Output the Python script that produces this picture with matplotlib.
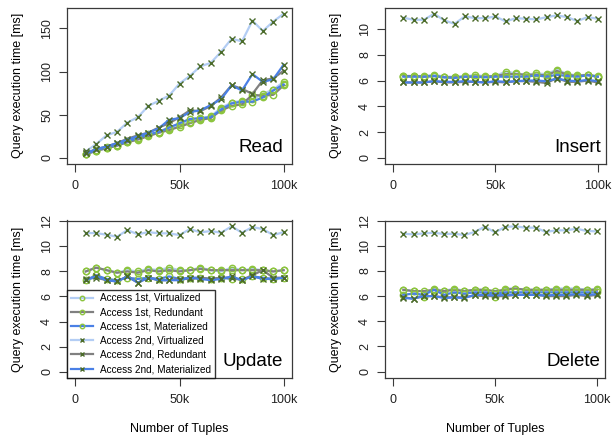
import matplotlib.pyplot as plt
from matplotlib.ticker import MultipleLocator
import numpy as np

plt.rcParams['font.family'] = ['Liberation Sans', 'DejaVu Sans']

# number of tuples (5k .. 100k)
tuples = [5000 * (i + 1) for i in range(20)]
xtick_vals = [0, 50000, 100000]
xtick_labels = ['0', '50k', '100k']

series_names = ['Access 1st, Virtualized', 'Access 1st, Redundant', 'Access 1st, Materialized',
                'Access 2nd, Virtualized', 'Access 2nd, Redundant', 'Access 2nd, Materialized']

# Read
read_1st_virt = [4, 8, 11, 14, 18, 22, 26, 29, 33, 38, 42, 45, 48, 58, 64, 66, 68, 74, 79, 88]
read_1st_red = [4, 8, 11, 14, 18, 21, 25, 29, 32, 36, 40, 44, 46, 55, 60, 62, 73, 72, 73, 84]
read_1st_mat = [4, 9, 12, 15, 19, 23, 27, 30, 35, 40, 45, 46, 47, 56, 63, 65, 65, 70, 78, 85]
read_2nd_virt = [7.3, 15.8, 26, 30, 40.8, 47, 60, 66, 72, 86, 95, 106, 110, 123, 138, 135, 159, 147, 158, 167]
read_2nd_red = [5, 10, 13, 17, 22, 26, 29, 35, 40, 47, 55, 54, 60, 70, 84, 80, 74, 90, 92, 101]
read_2nd_mat = [5, 10, 13, 17, 21, 25, 29, 34, 44, 46, 53, 55, 61, 68, 84, 78, 97, 88, 91, 108]

# Insert
ins_1st_virt = [6.35, 6.35, 6.35, 6.45, 6.3, 6.3, 6.35, 6.4, 6.35, 6.35, 6.7, 6.55, 6.45, 6.55, 6.5, 6.85, 6.5, 6.4, 6.45, 6.35]
ins_1st_red = [6.35, 6.35, 6.3, 6.35, 6.25, 6.25, 6.3, 6.3, 6.3, 6.35, 6.5, 6.5, 6.45, 6.45, 6.4, 6.75, 6.45, 6.35, 6.45, 6.3]
ins_1st_mat = [6.3, 6.3, 6.3, 6.35, 6.25, 6.2, 6.3, 6.3, 6.25, 6.3, 6.3, 6.3, 6.3, 6.4, 6.3, 6.45, 6.35, 6.3, 6.4, 6.3]
ins_2nd_virt = [10.88, 10.72, 10.72, 11.19, 10.67, 10.41, 10.98, 10.85, 10.85, 10.98,
                10.59, 10.85, 10.8, 10.75, 10.93, 11.06, 10.93, 10.62, 10.93, 10.8]
ins_2nd_red = [5.85, 5.85, 5.85, 5.95, 5.85, 5.85, 5.9, 5.9, 5.85, 5.9, 5.85, 5.95, 5.95, 5.9, 5.8, 6.2, 5.9, 5.9, 6.0, 5.85]
ins_2nd_mat = [5.85, 5.85, 5.85, 5.95, 5.9, 5.9, 5.95, 5.9, 5.85, 5.95, 5.9, 5.95, 6.0, 6.0, 5.95, 6.15, 6.0, 5.95, 6.05, 5.95]

# Update
upd_1st_virt = [8.0, 8.3, 8.1, 7.9, 8.1, 8.0, 8.2, 8.1, 8.3, 8.1, 8.1, 8.3, 8.1, 8.0, 8.3, 8.1, 8.2, 8.1, 8.0, 8.1]
upd_1st_red = [8.0, 8.3, 8.1, 7.9, 8.0, 7.9, 8.1, 8.0, 8.1, 8.0, 8.1, 8.2, 8.1, 8.1, 8.1, 8.1, 8.1, 8.1, 8.0, 8.1]
upd_1st_mat = [7.3, 7.7, 7.4, 7.3, 7.5, 7.4, 7.5, 7.4, 7.6, 7.4, 7.5, 7.5, 7.4, 7.5, 7.4, 7.4, 7.6, 7.5, 7.4, 7.5]
upd_2nd_virt = [11.06, 11.06, 10.93, 10.77, 11.3, 10.96, 11.14, 11.04, 11.04, 10.9,
                11.38, 11.12, 11.22, 11.09, 11.6, 11.09, 11.54, 11.38, 10.9, 11.14]
upd_2nd_red = [7.4, 7.5, 7.3, 7.2, 7.6, 7.1, 7.5, 7.3, 7.3, 7.4, 7.4, 7.5, 7.4, 7.5, 7.5, 7.3, 7.7, 8.1, 7.5, 7.5]
upd_2nd_mat = [7.3, 7.6, 7.3, 7.2, 7.6, 7.1, 7.5, 7.3, 7.3, 7.3, 7.5, 7.4, 7.3, 7.4, 7.6, 7.3, 7.6, 7.4, 7.4, 7.5]

# Delete
del_1st_virt = [6.5, 6.4, 5.95, 6.6, 6.4, 6.6, 6.4, 6.5, 6.5, 5.95, 6.6, 6.6, 6.5, 6.5, 6.5, 6.6, 6.6, 6.6, 6.5, 6.55]
del_1st_red = [6.5, 6.4, 6.4, 6.5, 6.4, 6.5, 6.4, 6.5, 6.5, 6.4, 6.5, 6.6, 6.5, 6.5, 6.5, 6.5, 6.5, 6.5, 6.5, 6.5]
del_1st_mat = [6.1, 6.2, 6.1, 6.5, 6.1, 6.3, 6.2, 6.3, 6.3, 6.2, 6.3, 6.3, 6.3, 6.3, 6.3, 6.3, 6.3, 6.3, 6.3, 6.3]
del_2nd_virt = [10.95, 10.9, 10.98, 11.03, 10.93, 10.95, 10.85, 11.09, 11.51, 11.06,
                11.49, 11.54, 11.43, 11.43, 11.09, 11.22, 11.22, 11.35, 11.17, 11.14]
del_2nd_red = [5.9, 5.8, 6.0, 6.0, 5.9, 5.9, 5.9, 6.05, 6.0, 6.0, 6.0, 6.1, 6.1, 6.1, 6.0, 6.0, 6.0, 6.1, 6.0, 6.1]
del_2nd_mat = [5.85, 5.8, 6.0, 6.0, 5.85, 5.9, 5.85, 6.1, 6.1, 6.05, 6.1, 6.1, 6.1, 6.1, 6.05, 6.1, 6.1, 6.15, 6.1, 6.15]

# line colors / markers for the six series
line_colors = ['#b3cdf4', '#808080', '#4a80e6', '#b3cdf4', '#808080', '#4a80e6']
circle_color = '#8cc43e'
cross_color = '#4b6b2a'
box_color = '#3a3a3a'

panels = [
    ('Read', [read_1st_virt, read_1st_red, read_1st_mat, read_2nd_virt, read_2nd_red, read_2nd_mat], 50, 0.962),
    ('Insert', [ins_1st_virt, ins_1st_red, ins_1st_mat, ins_2nd_virt, ins_2nd_red, ins_2nd_mat], 2, 0.977),
    ('Update', [upd_1st_virt, upd_1st_red, upd_1st_mat, upd_2nd_virt, upd_2nd_red, upd_2nd_mat], 2, 0.958),
    ('Delete', [del_1st_virt, del_1st_red, del_1st_mat, del_2nd_virt, del_2nd_red, del_2nd_mat], 2, 0.980),
]

fig = plt.figure(figsize=(6.14, 4.41), dpi=100)
W, H = 614, 441
boxes = [(67, 8, 292, 163.5), (385, 8, 606, 163.5), (67, 220.5, 292, 377.5), (385, 220.5, 605, 377.5)]

for k, (name, data, ystep, txt_x) in enumerate(panels):
    x0, y0, x1, y1 = boxes[k]
    ax = fig.add_axes([x0 / W, 1 - y1 / H, (x1 - x0) / W, (y1 - y0) / H])
    for i, ys in enumerate(data):
        if i < 3:
            mk, mc = 'o', circle_color
        else:
            mk, mc = 'x', cross_color
        ax.plot(tuples, ys, color=line_colors[i], lw=1.6, marker=mk, ms=4.6, mfc='none',
                mec=mc, mew=1.0, label=series_names[i])

    ymax = max(max(ys) for ys in data)
    ax.set_ylim(-0.04 * ymax, 1.04 * ymax)
    ax.set_xlim(-4000, 104000)
    ax.yaxis.set_major_locator(MultipleLocator(ystep))
    ax.set_xticks(xtick_vals)
    ax.set_xticklabels(xtick_labels)
    ax.tick_params(axis='both', direction='out', length=6, width=0.8, color=box_color,
                   labelsize=9, labelcolor='#222222')
    ax.tick_params(axis='x', pad=6)
    ax.tick_params(axis='y', labelrotation=90, pad=4)
    for lab in ax.get_yticklabels():
        lab.set_va('center')
    for sp in ax.spines.values():
        sp.set_color(box_color)
        sp.set_linewidth(0.9)

    ax.text(txt_x, 0.075, name, transform=ax.transAxes, ha='right', va='baseline', fontsize=13.5)
    ax.set_ylabel('Query execution time [ms]', fontsize=9, labelpad=12)
    if k >= 2:
        ax.set_xlabel('Number of Tuples', fontsize=9, labelpad=12)

    if name == 'Update':
        leg = ax.legend(loc='lower left', fontsize=7.2, frameon=True, fancybox=False,
                        borderaxespad=0, borderpad=0.35, labelspacing=0.42, handlelength=2.2,
                        handletextpad=0.8, markerscale=0.7)
        leg.get_frame().set_edgecolor('black')
        leg.get_frame().set_linewidth(1.0)

fig.savefig('out.png', dpi=100)
